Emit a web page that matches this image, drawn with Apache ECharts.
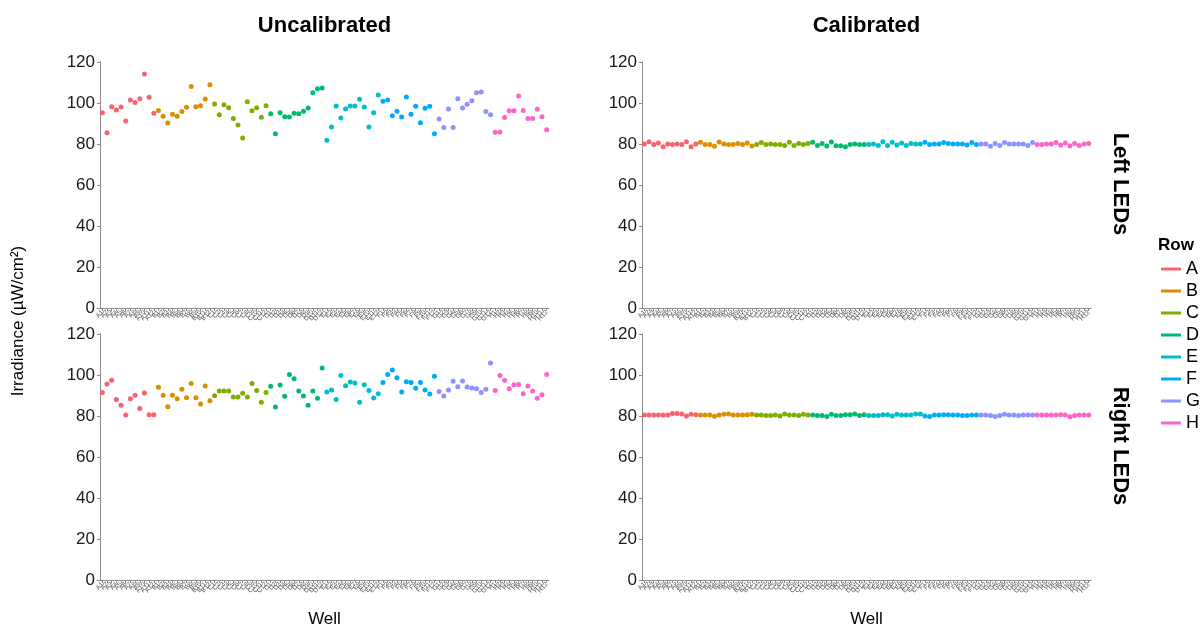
<!DOCTYPE html>
<html>
<head>
<meta charset="utf-8">
<script src="https://cdn.jsdelivr.net/npm/echarts@6/dist/echarts.min.js"></script>
<style>html,body{margin:0;padding:0;background:#fff;}#c{width:1202px;height:627px;}</style>
</head>
<body>
<div id="c"></div>
<script>
const rowNames = ['A','B','C','D','E','F','G','H'];
const colNums = [1,2,3,4,5,6,7,8,9,10,11,12];
const rowColors = ['#F8626F','#DB8E00','#7FAE00','#00BA6E','#00BFC8','#00ACF8','#8E91FF','#FF62C8'];

const uncalLeft = [
  95.3,85.5,98.2,96.6,98,91.2,101.5,100.3,102.1,114.1,102.8,95,
  96.4,93.5,90.2,94.5,93.5,95.8,97.9,108,98.2,98.7,102,108.9,
  99.5,94.3,99.2,97.7,92.5,89.3,82.9,100.6,96.2,97.7,93,98.7,
  94.8,85,95.3,93.3,93.2,95,94.7,96,97.6,105,107,107.3,
  81.8,88.3,98.5,92.7,97.2,98.5,98.5,101.8,98,88.3,95.3,103.9,
  100.8,101.5,93.8,96,93.2,102.9,94.5,98.4,90.4,97.4,98.4,85,
  92.2,88.1,97.1,88,102.1,97.6,99.4,101.1,105,105.4,95.8,94.3,
  85.7,85.8,92.9,96.2,96.2,103.4,96.4,92.5,92.5,96.9,93.3,87
];
const uncalRight = [
  91.5,95.6,97.4,88,85.2,80.5,88.4,90.1,83.7,91.2,80.6,80.6,
  94,90.1,84.5,90.1,88.4,93,88.9,95.8,88.9,85.9,94.6,87.5,
  89.9,92.2,92.2,92.2,89.3,89.3,91.1,89.3,95.8,92.5,86.7,91.5,
  94.5,84.4,95.1,89.6,100.2,98.2,92.2,89.8,85.2,92.2,88.6,103.4,
  91.7,92.7,88.1,99.8,94.8,96.6,96.1,86.7,95.3,92.4,88.8,90.9,
  96.4,100.3,102.4,98.7,91.7,96.7,96.3,93.5,96.3,92.7,90.7,99.4,
  92,89.8,92.7,96.9,94.3,97.1,94.1,93.7,93.3,91.5,93,105.9,
  92.5,99.8,97.4,93.3,95.3,95.4,90.9,94.6,92.2,88.6,90.4,100.2
];
const calLeft = [
  80,81.1,79.8,80.5,78.7,80,79.8,80,79.8,81.1,78.7,80,
  80.8,79.7,79.8,78.9,81,80,79.8,79.8,80.3,79.8,80.5,79,
  79.8,80.7,79.8,80,79.8,79.7,79.3,80.8,79.3,80.2,79.7,80.3,
  80.8,79.3,80.2,79,81,79.2,79.2,78.7,79.8,80,79.8,79.7,
  79.8,80,79.3,81.1,79.3,80.8,79.5,80.5,79.3,80.2,80,80,
  80.8,79.7,80,80,80.7,80.2,80,80,80,79.5,80.7,79.7,
  80,80,78.9,80.2,79.3,80.7,80,80,80,80,79.3,80.7,
  79.8,79.7,80,80,80.7,79.5,80.5,79.2,80.3,79.3,80,80.2
];
const calRight = [
  80.5,80.5,80.5,80.5,80.5,80.5,81.2,81.2,81,80,80.8,80.6,
  80.5,80.5,80.5,79.9,80.5,80.8,81,80.5,80.5,80.5,80.6,80.9,
  80.5,80.5,80.3,80.3,80.5,80,81,80.5,80.5,80.3,80.9,80.5,
  80.5,80.3,80.3,79.8,80.8,80.3,80.3,80.6,80.6,81,80.3,80.6,
  80.3,80.3,80.3,80.6,80.6,80,80.8,80.5,80.5,80.5,81,81,
  80,79.8,80.5,80.5,80.6,80.6,80.5,80.5,80.3,80.3,80.5,80.5,
  80.5,80.5,80.3,79.8,80.3,80.9,80.5,80.5,80.3,80.5,80.5,80.5,
  80.5,80.5,80.5,80.5,80.5,80.6,80.5,79.6,80.3,80.5,80.5,80.5
];
const yTicks = [0,20,40,60,80,100,120];
const colTitles = ['Uncalibrated','Calibrated'];
const rowTitles = ['Left LEDs','Right LEDs'];

const wells = [];
rowNames.forEach(r => colNums.forEach(c => wells.push(r + c)));

const chart = echarts.init(document.getElementById('c'), null, {renderer:'canvas'});

const panels = [
  {data: uncalLeft, left: 100, top: 62},
  {data: calLeft, left: 642, top: 62},
  {data: uncalRight, left: 100, top: 334},
  {data: calRight, left: 642, top: 334}
];
const PW = 449, PH = 246;
const font = "'Liberation Sans', Arial, sans-serif";
const axisGrey = '#8c8c8c';

const grid = [], xAxis = [], yAxis = [], series = [];
panels.forEach((p, i) => {
  grid.push({left: p.left, top: p.top, width: PW, height: PH, containLabel: false});
  xAxis.push({
    type: 'category', gridIndex: i, data: wells, boundaryGap: true,
    axisLine: {show: true, lineStyle: {color: axisGrey, width: 1}},
    axisTick: {show: true, alignWithLabel: true, interval: 0, length: 3, lineStyle: {color: axisGrey}},
    axisLabel: {show: true, interval: 0, rotate: 50, fontSize: 6.5, color: '#555', margin: 3, fontFamily: font},
    splitLine: {show: false}
  });
  yAxis.push({
    type: 'value', gridIndex: i, min: 0, max: 120, interval: 20,
    axisLine: {show: true, lineStyle: {color: axisGrey, width: 1}},
    axisTick: {show: true, length: 3, lineStyle: {color: axisGrey}},
    axisLabel: {fontSize: 17, color: '#1a1a1a', margin: 5, fontFamily: font},
    splitLine: {show: false}
  });
  rowNames.forEach((r, ri) => {
    const d = [];
    for (let k = 0; k < 12; k++) {
      const idx = ri * 12 + k;
      d.push([wells[idx], p.data[idx]]);
    }
    series.push({
      name: r, type: 'scatter', xAxisIndex: i, yAxisIndex: i,
      data: d, symbolSize: 5, itemStyle: {color: rowColors[ri], opacity: 1},
      emphasis: {disabled: true}, animation: false
    });
  });
});

const graphic = [
  {type:'text', x: 100 + PW/2, y: 26, style:{text: colTitles[0], font: 'bold 22px ' + font, fill:'#000', textAlign:'center', textVerticalAlign:'middle'}},
  {type:'text', x: 642 + PW/2, y: 26, style:{text: colTitles[1], font: 'bold 22px ' + font, fill:'#000', textAlign:'center', textVerticalAlign:'middle'}},
  {type:'text', x: 1120, y: 184, rotation: -Math.PI/2, style:{text: rowTitles[0], font: 'bold 22px ' + font, fill:'#000', textAlign:'center', textVerticalAlign:'middle'}},
  {type:'text', x: 1120, y: 446, rotation: -Math.PI/2, style:{text: rowTitles[1], font: 'bold 22px ' + font, fill:'#000', textAlign:'center', textVerticalAlign:'middle'}},
  {type:'text', x: 18, y: 321, rotation: Math.PI/2, style:{text: 'Irradiance (µW/cm²)', font: '17px ' + font, fill:'#000', textAlign:'center', textVerticalAlign:'middle'}},
  {type:'text', x: 100 + PW/2, y: 619, style:{text: 'Well', font: '17px ' + font, fill:'#000', textAlign:'center', textVerticalAlign:'middle'}},
  {type:'text', x: 642 + PW/2, y: 619, style:{text: 'Well', font: '17px ' + font, fill:'#000', textAlign:'center', textVerticalAlign:'middle'}},
  {type:'text', x: 1158, y: 245, style:{text: 'Row', font: 'bold 17px ' + font, fill:'#000', textAlign:'left', textVerticalAlign:'middle'}}
];

chart.setOption({
  animation: false,
  backgroundColor: '#fff',
  grid, xAxis, yAxis, series, graphic,
  legend: {
    data: rowNames, orient: 'vertical', left: 1156, top: 255,
    icon: 'rect', itemWidth: 20, itemHeight: 3, itemGap: 4,
    textStyle: {fontSize: 18, color: '#000', fontFamily: font, padding: [0,0,0,0], lineHeight: 18},
    selectedMode: false
  }
});
</script>
</body>
</html>
